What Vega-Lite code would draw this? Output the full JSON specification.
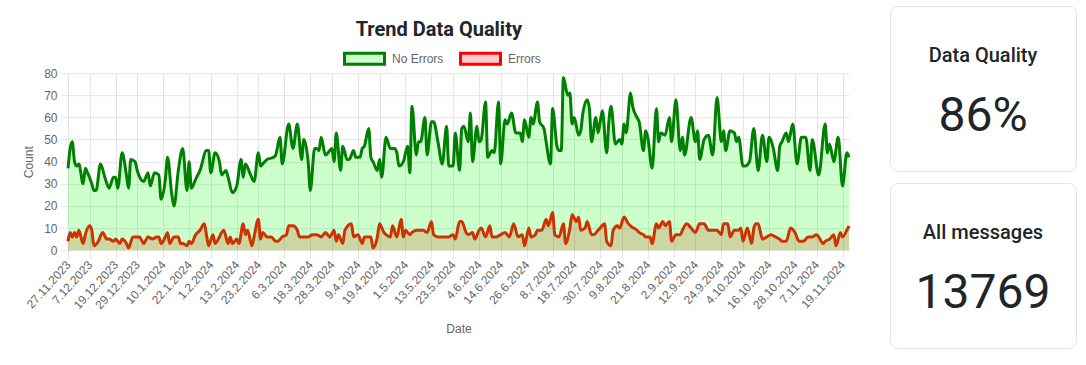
{
  "$schema": "https://vega.github.io/schema/vega-lite/v6.json",
  "background": "#ffffff",
  "padding": {"left": 22, "top": 5, "right": 11, "bottom": 0},
  "config": {
    "view": {"stroke": null},
    "axis": {
      "gridColor": "#e5e5e5", "tickColor": "#e5e5e5", "domain": false, "tickSize": 8,
      "labelFont": "Liberation Sans", "labelFontSize": 12, "labelColor": "#666666",
      "titleFont": "Liberation Sans", "titleFontSize": 12, "titleColor": "#666666", "titleFontWeight": "normal"
    },
    "legend": {
      "labelFont": "Liberation Sans", "labelFontSize": 12, "labelColor": "#666666",
      "symbolStrokeWidth": 3, "labelOffset": 6, "columnPadding": 10
    }
  },
  "datasets": {
    "noErrors": [
      {"date":"2023-11-27","count":37},{"date":"2023-11-28","count":46},{"date":"2023-11-29","count":49},{"date":"2023-11-30","count":40},
      {"date":"2023-12-01","count":38},{"date":"2023-12-02","count":39},{"date":"2023-12-04","count":30},{"date":"2023-12-05","count":37},
      {"date":"2023-12-06","count":35},{"date":"2023-12-08","count":30},{"date":"2023-12-09","count":27},{"date":"2023-12-10","count":27},
      {"date":"2023-12-12","count":39},{"date":"2023-12-14","count":33},{"date":"2023-12-15","count":30},{"date":"2023-12-16","count":28},
      {"date":"2023-12-18","count":33},{"date":"2023-12-19","count":33},{"date":"2023-12-20","count":28},{"date":"2023-12-22","count":44},
      {"date":"2023-12-24","count":34},{"date":"2023-12-25","count":28},{"date":"2023-12-26","count":41},{"date":"2023-12-28","count":40},
      {"date":"2023-12-29","count":36},{"date":"2024-01-01","count":31},{"date":"2024-01-02","count":33},{"date":"2024-01-03","count":35},
      {"date":"2024-01-04","count":29},{"date":"2024-01-06","count":35},{"date":"2024-01-08","count":34},{"date":"2024-01-09","count":23},
      {"date":"2024-01-11","count":32},{"date":"2024-01-12","count":42},{"date":"2024-01-14","count":25},{"date":"2024-01-15","count":20},
      {"date":"2024-01-17","count":36},{"date":"2024-01-19","count":46},{"date":"2024-01-21","count":27},{"date":"2024-01-22","count":40},
      {"date":"2024-01-23","count":28},{"date":"2024-01-25","count":32},{"date":"2024-01-26","count":34},{"date":"2024-01-27","count":36},
      {"date":"2024-01-30","count":45},{"date":"2024-01-31","count":45},{"date":"2024-02-01","count":35},{"date":"2024-02-03","count":44},
      {"date":"2024-02-05","count":40},{"date":"2024-02-06","count":34},{"date":"2024-02-08","count":36},{"date":"2024-02-09","count":33},
      {"date":"2024-02-11","count":26},{"date":"2024-02-13","count":29},{"date":"2024-02-15","count":41},{"date":"2024-02-16","count":33},
      {"date":"2024-02-17","count":39},{"date":"2024-02-19","count":35},{"date":"2024-02-21","count":31},{"date":"2024-02-23","count":44},
      {"date":"2024-02-24","count":38},{"date":"2024-02-25","count":39},{"date":"2024-02-27","count":41},{"date":"2024-03-01","count":42},
      {"date":"2024-03-02","count":43},{"date":"2024-03-04","count":51},{"date":"2024-03-05","count":39},{"date":"2024-03-08","count":57},
      {"date":"2024-03-10","count":46},{"date":"2024-03-12","count":57},{"date":"2024-03-14","count":41},{"date":"2024-03-15","count":50},
      {"date":"2024-03-17","count":40},{"date":"2024-03-18","count":27},{"date":"2024-03-20","count":46},{"date":"2024-03-21","count":46},
      {"date":"2024-03-22","count":45},{"date":"2024-03-23","count":51},{"date":"2024-03-25","count":43},{"date":"2024-03-27","count":45},
      {"date":"2024-03-28","count":46},{"date":"2024-03-29","count":40},{"date":"2024-03-30","count":53},{"date":"2024-04-01","count":36},
      {"date":"2024-04-02","count":47},{"date":"2024-04-04","count":41},{"date":"2024-04-05","count":41},{"date":"2024-04-07","count":45},
      {"date":"2024-04-08","count":42},{"date":"2024-04-10","count":42},{"date":"2024-04-11","count":46},{"date":"2024-04-12","count":47},
      {"date":"2024-04-14","count":55},{"date":"2024-04-15","count":42},{"date":"2024-04-16","count":40},{"date":"2024-04-18","count":36},
      {"date":"2024-04-19","count":41},{"date":"2024-04-20","count":33},{"date":"2024-04-22","count":51},{"date":"2024-04-24","count":46},
      {"date":"2024-04-26","count":46},{"date":"2024-04-27","count":44},{"date":"2024-04-28","count":38},{"date":"2024-04-30","count":40},
      {"date":"2024-05-02","count":47},{"date":"2024-05-03","count":35},{"date":"2024-05-04","count":65},{"date":"2024-05-06","count":43},
      {"date":"2024-05-07","count":49},{"date":"2024-05-08","count":49},{"date":"2024-05-10","count":60},{"date":"2024-05-11","count":43},
      {"date":"2024-05-13","count":58},{"date":"2024-05-14","count":58},{"date":"2024-05-16","count":49},{"date":"2024-05-18","count":39},
      {"date":"2024-05-20","count":56},{"date":"2024-05-21","count":38},{"date":"2024-05-23","count":38},{"date":"2024-05-24","count":53},
      {"date":"2024-05-26","count":36},{"date":"2024-05-27","count":55},{"date":"2024-05-28","count":56},{"date":"2024-05-30","count":49},
      {"date":"2024-05-31","count":62},{"date":"2024-06-01","count":40},{"date":"2024-06-03","count":56},{"date":"2024-06-04","count":49},
      {"date":"2024-06-05","count":50},{"date":"2024-06-07","count":67},{"date":"2024-06-08","count":42},{"date":"2024-06-10","count":45},
      {"date":"2024-06-11","count":44},{"date":"2024-06-13","count":67},{"date":"2024-06-14","count":39},{"date":"2024-06-16","count":59},
      {"date":"2024-06-17","count":57},{"date":"2024-06-19","count":62},{"date":"2024-06-21","count":53},{"date":"2024-06-23","count":53},
      {"date":"2024-06-24","count":49},{"date":"2024-06-25","count":59},{"date":"2024-06-27","count":51},{"date":"2024-06-28","count":60},
      {"date":"2024-06-29","count":57},{"date":"2024-07-01","count":67},{"date":"2024-07-02","count":58},{"date":"2024-07-04","count":55},
      {"date":"2024-07-05","count":49},{"date":"2024-07-07","count":39},{"date":"2024-07-08","count":64},{"date":"2024-07-10","count":47},
      {"date":"2024-07-11","count":45},{"date":"2024-07-12","count":45},{"date":"2024-07-13","count":78},{"date":"2024-07-15","count":70},
      {"date":"2024-07-16","count":71},{"date":"2024-07-17","count":57},{"date":"2024-07-18","count":60},{"date":"2024-07-20","count":52},
      {"date":"2024-07-21","count":54},{"date":"2024-07-22","count":62},{"date":"2024-07-24","count":68},{"date":"2024-07-25","count":64},
      {"date":"2024-07-26","count":49},{"date":"2024-07-28","count":60},{"date":"2024-07-29","count":53},{"date":"2024-07-30","count":58},
      {"date":"2024-07-31","count":63},{"date":"2024-08-02","count":44},{"date":"2024-08-03","count":58},{"date":"2024-08-04","count":65},
      {"date":"2024-08-06","count":48},{"date":"2024-08-08","count":50},{"date":"2024-08-09","count":48},{"date":"2024-08-10","count":57},
      {"date":"2024-08-11","count":53},{"date":"2024-08-13","count":71},{"date":"2024-08-14","count":65},{"date":"2024-08-16","count":60},
      {"date":"2024-08-17","count":58},{"date":"2024-08-19","count":45},{"date":"2024-08-20","count":54},{"date":"2024-08-21","count":51},
      {"date":"2024-08-23","count":37},{"date":"2024-08-25","count":64},{"date":"2024-08-26","count":49},{"date":"2024-08-27","count":53},
      {"date":"2024-08-29","count":52},{"date":"2024-08-31","count":60},{"date":"2024-09-01","count":49},{"date":"2024-09-03","count":68},
      {"date":"2024-09-05","count":45},{"date":"2024-09-06","count":51},{"date":"2024-09-07","count":43},{"date":"2024-09-10","count":60},
      {"date":"2024-09-12","count":49},{"date":"2024-09-13","count":54},{"date":"2024-09-14","count":41},{"date":"2024-09-16","count":50},
      {"date":"2024-09-18","count":52},{"date":"2024-09-20","count":43},{"date":"2024-09-22","count":69},{"date":"2024-09-24","count":49},
      {"date":"2024-09-25","count":54},{"date":"2024-09-26","count":45},{"date":"2024-09-28","count":54},{"date":"2024-09-30","count":53},
      {"date":"2024-10-01","count":49},{"date":"2024-10-02","count":51},{"date":"2024-10-04","count":38},{"date":"2024-10-05","count":38},
      {"date":"2024-10-07","count":40},{"date":"2024-10-09","count":55},{"date":"2024-10-11","count":36},{"date":"2024-10-13","count":52},
      {"date":"2024-10-15","count":40},{"date":"2024-10-16","count":51},{"date":"2024-10-18","count":46},{"date":"2024-10-20","count":36},
      {"date":"2024-10-21","count":47},{"date":"2024-10-22","count":49},{"date":"2024-10-24","count":53},{"date":"2024-10-25","count":49},
      {"date":"2024-10-27","count":57},{"date":"2024-10-29","count":39},{"date":"2024-10-31","count":51},{"date":"2024-11-02","count":51},
      {"date":"2024-11-04","count":36},{"date":"2024-11-05","count":50},{"date":"2024-11-08","count":34},{"date":"2024-11-11","count":57},
      {"date":"2024-11-12","count":44},{"date":"2024-11-13","count":48},{"date":"2024-11-15","count":40},{"date":"2024-11-17","count":51},
      {"date":"2024-11-19","count":29},{"date":"2024-11-21","count":44},{"date":"2024-11-22","count":42}
    ],
    "errors": [
      {"date":"2023-11-27","count":4},{"date":"2023-11-28","count":8},{"date":"2023-11-29","count":6},{"date":"2023-11-30","count":8},
      {"date":"2023-12-01","count":6},{"date":"2023-12-02","count":9},{"date":"2023-12-04","count":3},{"date":"2023-12-05","count":7},
      {"date":"2023-12-07","count":11},{"date":"2023-12-08","count":9},{"date":"2023-12-09","count":2},{"date":"2023-12-11","count":4},
      {"date":"2023-12-13","count":8},{"date":"2023-12-15","count":5},{"date":"2023-12-16","count":5},{"date":"2023-12-18","count":4},
      {"date":"2023-12-19","count":5},{"date":"2023-12-21","count":3},{"date":"2023-12-22","count":5},{"date":"2023-12-24","count":3},
      {"date":"2023-12-25","count":1},{"date":"2023-12-27","count":6},{"date":"2023-12-29","count":6},{"date":"2023-12-30","count":6},
      {"date":"2024-01-01","count":3},{"date":"2024-01-03","count":6},{"date":"2024-01-05","count":5},{"date":"2024-01-07","count":6},
      {"date":"2024-01-08","count":6},{"date":"2024-01-09","count":3},{"date":"2024-01-11","count":6},{"date":"2024-01-12","count":8},
      {"date":"2024-01-13","count":3},{"date":"2024-01-15","count":6},{"date":"2024-01-17","count":6},{"date":"2024-01-18","count":3},
      {"date":"2024-01-19","count":3},{"date":"2024-01-21","count":2},{"date":"2024-01-22","count":4},{"date":"2024-01-23","count":3},
      {"date":"2024-01-25","count":7},{"date":"2024-01-27","count":9},{"date":"2024-01-29","count":12},{"date":"2024-01-30","count":7},
      {"date":"2024-01-31","count":2},{"date":"2024-02-02","count":7},{"date":"2024-02-03","count":3},{"date":"2024-02-05","count":6},
      {"date":"2024-02-06","count":8},{"date":"2024-02-07","count":9},{"date":"2024-02-09","count":3},{"date":"2024-02-10","count":6},
      {"date":"2024-02-11","count":3},{"date":"2024-02-13","count":5},{"date":"2024-02-14","count":3},{"date":"2024-02-16","count":12},
      {"date":"2024-02-17","count":7},{"date":"2024-02-18","count":9},{"date":"2024-02-20","count":2},{"date":"2024-02-21","count":6},
      {"date":"2024-02-23","count":14},{"date":"2024-02-24","count":5},{"date":"2024-02-25","count":8},{"date":"2024-02-27","count":6},
      {"date":"2024-02-29","count":6},{"date":"2024-03-02","count":4},{"date":"2024-03-03","count":4},{"date":"2024-03-05","count":6},
      {"date":"2024-03-07","count":7},{"date":"2024-03-08","count":11},{"date":"2024-03-10","count":11},{"date":"2024-03-12","count":9},
      {"date":"2024-03-13","count":6},{"date":"2024-03-15","count":6},{"date":"2024-03-16","count":6},{"date":"2024-03-17","count":6},
      {"date":"2024-03-19","count":7},{"date":"2024-03-21","count":7},{"date":"2024-03-23","count":6},{"date":"2024-03-24","count":7},
      {"date":"2024-03-25","count":8},{"date":"2024-03-27","count":6},{"date":"2024-03-29","count":9},{"date":"2024-03-30","count":4},
      {"date":"2024-03-31","count":7},{"date":"2024-04-02","count":3},{"date":"2024-04-03","count":9},{"date":"2024-04-06","count":12},
      {"date":"2024-04-07","count":6},{"date":"2024-04-09","count":7},{"date":"2024-04-11","count":3},{"date":"2024-04-12","count":6},
      {"date":"2024-04-14","count":6},{"date":"2024-04-15","count":6},{"date":"2024-04-16","count":1},{"date":"2024-04-18","count":6},
      {"date":"2024-04-19","count":12},{"date":"2024-04-21","count":8},{"date":"2024-04-22","count":7},{"date":"2024-04-24","count":6},
      {"date":"2024-04-25","count":11},{"date":"2024-04-27","count":6},{"date":"2024-04-29","count":14},{"date":"2024-04-30","count":6},
      {"date":"2024-05-01","count":9},{"date":"2024-05-03","count":7},{"date":"2024-05-04","count":8},{"date":"2024-05-06","count":9},
      {"date":"2024-05-07","count":9},{"date":"2024-05-09","count":9},{"date":"2024-05-11","count":8},{"date":"2024-05-13","count":13},
      {"date":"2024-05-14","count":7},{"date":"2024-05-16","count":6},{"date":"2024-05-18","count":6},{"date":"2024-05-19","count":6},
      {"date":"2024-05-21","count":6},{"date":"2024-05-23","count":7},{"date":"2024-05-24","count":5},{"date":"2024-05-26","count":13},
      {"date":"2024-05-27","count":13},{"date":"2024-05-29","count":8},{"date":"2024-05-30","count":7},{"date":"2024-06-01","count":8},
      {"date":"2024-06-02","count":5},{"date":"2024-06-04","count":9},{"date":"2024-06-05","count":10},{"date":"2024-06-07","count":6},
      {"date":"2024-06-09","count":11},{"date":"2024-06-10","count":6},{"date":"2024-06-12","count":6},{"date":"2024-06-14","count":7},
      {"date":"2024-06-16","count":8},{"date":"2024-06-18","count":6},{"date":"2024-06-20","count":12},{"date":"2024-06-22","count":6},
      {"date":"2024-06-24","count":7},{"date":"2024-06-25","count":2},{"date":"2024-06-27","count":10},{"date":"2024-06-28","count":6},
      {"date":"2024-06-30","count":7},{"date":"2024-07-01","count":9},{"date":"2024-07-03","count":9},{"date":"2024-07-05","count":14},
      {"date":"2024-07-06","count":11},{"date":"2024-07-08","count":17},{"date":"2024-07-09","count":7},{"date":"2024-07-11","count":6},
      {"date":"2024-07-13","count":12},{"date":"2024-07-14","count":3},{"date":"2024-07-16","count":10},{"date":"2024-07-17","count":16},
      {"date":"2024-07-19","count":13},{"date":"2024-07-20","count":15},{"date":"2024-07-21","count":9},{"date":"2024-07-23","count":10},
      {"date":"2024-07-24","count":13},{"date":"2024-07-26","count":7},{"date":"2024-07-27","count":7},{"date":"2024-07-29","count":9},
      {"date":"2024-07-30","count":10},{"date":"2024-08-01","count":12},{"date":"2024-08-02","count":4},{"date":"2024-08-04","count":2},
      {"date":"2024-08-05","count":9},{"date":"2024-08-07","count":11},{"date":"2024-08-08","count":10},{"date":"2024-08-10","count":15},
      {"date":"2024-08-12","count":12},{"date":"2024-08-13","count":11},{"date":"2024-08-16","count":9},{"date":"2024-08-17","count":8},
      {"date":"2024-08-19","count":7},{"date":"2024-08-20","count":6},{"date":"2024-08-22","count":6},{"date":"2024-08-23","count":3},
      {"date":"2024-08-25","count":12},{"date":"2024-08-26","count":10},{"date":"2024-08-28","count":13},{"date":"2024-08-29","count":11},
      {"date":"2024-08-31","count":13},{"date":"2024-09-01","count":4},{"date":"2024-09-03","count":7},{"date":"2024-09-05","count":7},
      {"date":"2024-09-06","count":9},{"date":"2024-09-08","count":12},{"date":"2024-09-10","count":10},{"date":"2024-09-12","count":8},
      {"date":"2024-09-14","count":12},{"date":"2024-09-16","count":12},{"date":"2024-09-18","count":9},{"date":"2024-09-20","count":9},
      {"date":"2024-09-22","count":9},{"date":"2024-09-24","count":7},{"date":"2024-09-25","count":12},{"date":"2024-09-27","count":12},
      {"date":"2024-09-28","count":6},{"date":"2024-09-30","count":9},{"date":"2024-10-02","count":9},{"date":"2024-10-03","count":10},
      {"date":"2024-10-04","count":4},{"date":"2024-10-06","count":10},{"date":"2024-10-08","count":3},{"date":"2024-10-09","count":10},
      {"date":"2024-10-10","count":12},{"date":"2024-10-11","count":12},{"date":"2024-10-13","count":5},{"date":"2024-10-15","count":6},
      {"date":"2024-10-17","count":7},{"date":"2024-10-19","count":6},{"date":"2024-10-21","count":5},{"date":"2024-10-22","count":4},
      {"date":"2024-10-24","count":4},{"date":"2024-10-26","count":10},{"date":"2024-10-28","count":8},{"date":"2024-10-30","count":4},
      {"date":"2024-11-01","count":4},{"date":"2024-11-03","count":6},{"date":"2024-11-05","count":6},{"date":"2024-11-07","count":7},
      {"date":"2024-11-08","count":6},{"date":"2024-11-10","count":3},{"date":"2024-11-11","count":4},{"date":"2024-11-13","count":5},
      {"date":"2024-11-15","count":7},{"date":"2024-11-16","count":2},{"date":"2024-11-18","count":8},{"date":"2024-11-19","count":6},
      {"date":"2024-11-21","count":9},{"date":"2024-11-22","count":11}
    ]
  },
  "hconcat": [
    {
      "width": 781,
      "height": 177,
      "title": {"text": ["", "Trend Data Quality"], "lineHeight": 12, "font": "Roboto", "fontSize": 20, "fontWeight": "bold", "color": "#212529", "anchor": "middle", "frame": "bounds", "offset": -3},
      "encoding": {
        "x": {
          "field": "date", "type": "temporal",
          "scale": {"type": "utc", "domain": [{"year": 2023, "month": 11, "date": 27, "utc": true}, {"year": 2024, "month": 11, "date": 22, "utc": true}]},
          "axis": {
            "title": "Date", "format": "%-d.%-m.%Y", "labelAngle": -48, "labelAlign": "right", "labelBaseline": "middle",
            "labelPadding": 4, "labelOverlap": false, "labelBound": false, "labelFlush": false, "titlePadding": 13,
            "values": [
              {"year": 2023, "month": 11, "date": 27, "utc": true}, {"year": 2023, "month": 12, "date": 7, "utc": true},
              {"year": 2023, "month": 12, "date": 19, "utc": true}, {"year": 2023, "month": 12, "date": 29, "utc": true},
              {"year": 2024, "month": 1, "date": 10, "utc": true}, {"year": 2024, "month": 1, "date": 22, "utc": true},
              {"year": 2024, "month": 2, "date": 1, "utc": true}, {"year": 2024, "month": 2, "date": 13, "utc": true},
              {"year": 2024, "month": 2, "date": 23, "utc": true}, {"year": 2024, "month": 3, "date": 6, "utc": true},
              {"year": 2024, "month": 3, "date": 18, "utc": true}, {"year": 2024, "month": 3, "date": 28, "utc": true},
              {"year": 2024, "month": 4, "date": 9, "utc": true}, {"year": 2024, "month": 4, "date": 19, "utc": true},
              {"year": 2024, "month": 5, "date": 1, "utc": true}, {"year": 2024, "month": 5, "date": 13, "utc": true},
              {"year": 2024, "month": 5, "date": 23, "utc": true}, {"year": 2024, "month": 6, "date": 4, "utc": true},
              {"year": 2024, "month": 6, "date": 14, "utc": true}, {"year": 2024, "month": 6, "date": 26, "utc": true},
              {"year": 2024, "month": 7, "date": 8, "utc": true}, {"year": 2024, "month": 7, "date": 18, "utc": true},
              {"year": 2024, "month": 7, "date": 30, "utc": true}, {"year": 2024, "month": 8, "date": 9, "utc": true},
              {"year": 2024, "month": 8, "date": 21, "utc": true}, {"year": 2024, "month": 9, "date": 2, "utc": true},
              {"year": 2024, "month": 9, "date": 12, "utc": true}, {"year": 2024, "month": 9, "date": 24, "utc": true},
              {"year": 2024, "month": 10, "date": 4, "utc": true}, {"year": 2024, "month": 10, "date": 16, "utc": true},
              {"year": 2024, "month": 10, "date": 28, "utc": true}, {"year": 2024, "month": 11, "date": 7, "utc": true},
              {"year": 2024, "month": 11, "date": 19, "utc": true}
            ]
          }
        },
        "y": {
          "field": "count", "type": "quantitative",
          "scale": {"domain": [0, 80]},
          "axis": {"title": "Count", "values": [0, 10, 20, 30, 40, 50, 60, 70, 80], "labelPadding": 3, "titlePadding": 8}
        }
      },
      "layer": [
        {
          "data": {"name": "errors"},
          "mark": {"type": "area", "interpolate": "monotone"},
          "encoding": {
            "fill": {"datum": "Errors", "type": "nominal",
              "scale": {"domain": ["No Errors", "Errors"], "range": ["rgba(0,255,0,0.2)", "rgba(255,0,0,0.2)"]},
              "legend": {"title": null, "orient": "none", "legendX": 275, "legendY": -36, "direction": "horizontal", "symbolType": "M-1,-0.27H1V0.27H-1Z", "symbolSize": 1600}}
          }
        },
        {
          "data": {"name": "errors"},
          "mark": {"type": "line", "interpolate": "monotone", "strokeWidth": 3},
          "encoding": {
            "stroke": {"datum": "Errors", "type": "nominal",
              "scale": {"domain": ["No Errors", "Errors"], "range": ["#008000", "#ff0000"]},
              "legend": {"title": null, "orient": "none", "legendX": 275, "legendY": -36, "direction": "horizontal", "symbolType": "M-1,-0.27H1V0.27H-1Z", "symbolSize": 1600}}
          }
        },
        {
          "data": {"name": "noErrors"},
          "mark": {"type": "area", "interpolate": "monotone"},
          "encoding": {
            "fill": {"datum": "No Errors", "type": "nominal"}
          }
        },
        {
          "data": {"name": "noErrors"},
          "mark": {"type": "line", "interpolate": "monotone", "strokeWidth": 3},
          "encoding": {
            "stroke": {"datum": "No Errors", "type": "nominal"}
          }
        }
      ]
    },
    {
      "vconcat": [
        {
          "width": 186,
          "height": 165,
          "view": {"fill": "#ffffff", "stroke": "#e4e4e4", "cornerRadius": 8},
          "data": {"values": [{"role": "title", "text": "Data Quality"}, {"role": "value", "text": "86%"}]},
          "encoding": {
            "y": {"field": "role", "type": "nominal", "scale": {"type": "point", "domain": ["title", "value"], "padding": 0.696, "align": 0.583}, "axis": null},
            "text": {"field": "text", "type": "nominal"}
          },
          "layer": [
            {"transform": [{"filter": "datum.role === 'title'"}], "mark": {"type": "text", "font": "Roboto", "fontSize": 20, "fontWeight": 500, "fill": "#212529", "baseline": "alphabetic"}},
            {"transform": [{"filter": "datum.role === 'value'"}], "mark": {"type": "text", "font": "Roboto", "fontSize": 48, "fontWeight": 400, "fill": "#212529", "baseline": "alphabetic"}}
          ]
        },
        {
          "width": 186,
          "height": 165,
          "view": {"fill": "#ffffff", "stroke": "#e4e4e4", "cornerRadius": 8},
          "data": {"values": [{"role": "title", "text": "All messages"}, {"role": "value", "text": "13769"}]},
          "encoding": {
            "y": {"field": "role", "type": "nominal", "scale": {"type": "point", "domain": ["title", "value"], "padding": 0.696, "align": 0.583}, "axis": null},
            "text": {"field": "text", "type": "nominal"}
          },
          "layer": [
            {"transform": [{"filter": "datum.role === 'title'"}], "mark": {"type": "text", "font": "Roboto", "fontSize": 20, "fontWeight": 500, "fill": "#212529", "baseline": "alphabetic"}},
            {"transform": [{"filter": "datum.role === 'value'"}], "mark": {"type": "text", "font": "Roboto", "fontSize": 48, "fontWeight": 400, "fill": "#212529", "baseline": "alphabetic"}}
          ]
        },
        {
          "width": 186,
          "height": 43,
          "data": {"values": []},
          "mark": {"type": "text"},
          "encoding": {}
        }
      ],
      "spacing": 10,
      "resolve": {"scale": {"y": "independent"}}
    }
  ],
  "spacing": 34,
  "center": true,
  "resolve": {"legend": {"fill": "independent", "stroke": "independent"}}
}
